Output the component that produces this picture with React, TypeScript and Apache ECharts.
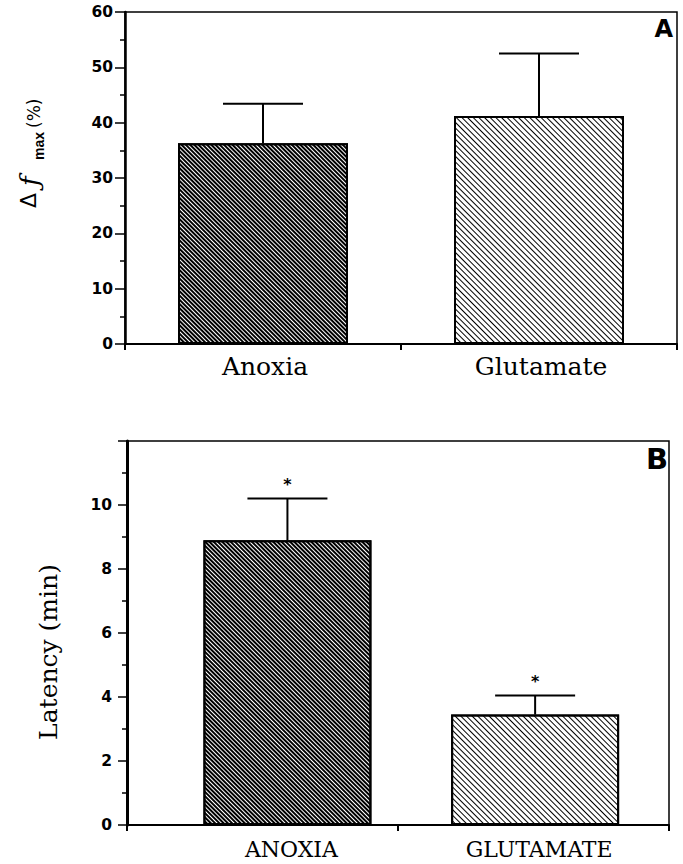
import React, { useEffect, useRef } from 'react';
import * as echarts from 'echarts';

// ---------- data ----------
const categoriesA = ['Anoxia', 'Glutamate'];
const valuesA = [36.3, 41.2];
const errorTopsA = [43.4, 52.5];
const yTicksA = [0, 10, 20, 30, 40, 50, 60];

const categoriesB = ['ANOXIA', 'GLUTAMATE'];
const valuesB = [8.9, 3.45];
const errorTopsB = [10.2, 4.05];
const marksB = ['*', '*'];
const yTicksB = [0, 2, 4, 6, 8, 10];
const yMaxB = 12;

// ---------- layout / style ----------
const SHIFT_A = [0, 0];
const SHIFT_B = [0.092, 0.006];
const GRID_A = { left: 125, top: 12, width: 552, height: 332 };
const GRID_B = { left: 127, top: 441, width: 542, height: 384 };

const DENSE = {
  symbol: 'rect', symbolSize: 1, color: '#000', backgroundColor: '#fff',
  dashArrayX: [1, 0], dashArrayY: [1.2, 0.9], rotation: Math.PI / 4,
};
const SPARSE = {
  symbol: 'rect', symbolSize: 1, color: '#000', backgroundColor: '#fff',
  dashArrayX: [1, 0], dashArrayY: [1, 3], rotation: Math.PI / 4,
};
const DECALS = [DENSE, SPARSE];

function xAxisCfg(gridIndex: number) {
  return {
    type: 'value', gridIndex, min: -0.5, max: 1.5, interval: 1,
    axisLine: { show: true, onZero: false, lineStyle: { color: '#000', width: 2 } },
    axisTick: { show: true, inside: false, length: 6, lineStyle: { color: '#000', width: 2 } },
    axisLabel: { show: false },
    splitLine: { show: false },
  };
}

function yAxisCfg(gridIndex: number, ticks: number[], max: number, lw: number, tickLen: number, margin: number) {
  const interval = ticks[1] - ticks[0];
  return {
    type: 'value', gridIndex, min: ticks[0], max, interval,
    axisLine: { show: true, onZero: false, lineStyle: { color: '#000', width: lw } },
    axisTick: { show: true, inside: false, length: tickLen, lineStyle: { color: '#000', width: 1.5 } },
    minorTick: { show: true, splitNumber: 2, length: 5, lineStyle: { color: '#000', width: 1.5 } },
    axisLabel: {
      color: '#000', fontFamily: 'DejaVu Sans', fontWeight: 'bold', fontSize: 15.5, margin,
      formatter: (v: number) => (ticks.indexOf(v) >= 0 ? String(v) : ''),
    },
    splitLine: { show: false },
    minorSplitLine: { show: false },
  };
}

function barSeries(idx: number, values: number[], shift: number[], width: number) {
  return {
    type: 'bar', xAxisIndex: idx, yAxisIndex: idx, barWidth: width,
    data: values.map((v, i) => ({ value: [i + shift[i], v], itemStyle: { decal: DECALS[i] } })),
    itemStyle: { color: '#fff', borderColor: '#000', borderWidth: 2 },
    silent: true,
  };
}

function errorSeries(idx: number, values: number[], tops: number[], shift: number[], marks: string[] | null) {
  return {
    type: 'custom', xAxisIndex: idx, yAxisIndex: idx, clip: false, silent: true, z: 5,
    encode: { x: 0, y: [1, 2] },
    data: values.map((v, i) => [i + shift[i], v, tops[i]]),
    renderItem: (params: any, api: any) => {
      const x = api.value(0), v = api.value(1), t = api.value(2);
      const p0 = api.coord([x, v]);
      const p1 = api.coord([x, t]);
      const children: any[] = [
        { type: 'line', shape: { x1: p0[0], y1: p0[1], x2: p1[0], y2: p1[1] }, style: { stroke: '#000', lineWidth: 2 } },
        { type: 'line', shape: { x1: p1[0] - 40, y1: p1[1], x2: p1[0] + 40, y2: p1[1] }, style: { stroke: '#000', lineWidth: 2 } },
      ];
      if (marks && marks[params.dataIndex]) {
        children.push({
          type: 'text', x: p1[0], y: p1[1] - 14,
          style: {
            text: marks[params.dataIndex], fill: '#000', font: 'bold 16px "DejaVu Sans"',
            textAlign: 'center', textVerticalAlign: 'middle', align: 'center', verticalAlign: 'middle',
          },
        });
      }
      return { type: 'group', children };
    },
  };
}

function labelSeries(idx: number, cats: string[], shift: number[], dy: number, dx: number, font: string) {
  return {
    type: 'custom', xAxisIndex: idx, yAxisIndex: idx, clip: false, silent: true,
    encode: { x: 0, y: 1 },
    data: cats.map((c, i) => [i + shift[i], 0]),
    renderItem: (params: any, api: any) => {
      const p = api.coord([api.value(0), api.value(1)]);
      return {
        type: 'text', x: p[0] + dx, y: p[1] + dy,
        style: {
          text: cats[params.dataIndex], fill: '#000', font,
          textAlign: 'center', textVerticalAlign: 'middle', align: 'center', verticalAlign: 'middle',
        },
      };
    },
  };
}

export default function App() {
  const ref = useRef<HTMLDivElement>(null);
  useEffect(() => {
    if (!ref.current) return;
    const chart = echarts.init(ref.current, undefined, { renderer: 'svg' });
    const txt = (extra: any) => ({ fill: '#000', textVerticalAlign: 'middle', verticalAlign: 'middle', ...extra });
    chart.setOption({
      animation: false,
      backgroundColor: '#fff',
      grid: [
        { ...GRID_A, show: true, borderColor: '#000', borderWidth: 1.5, backgroundColor: 'transparent' },
        { ...GRID_B, show: true, borderColor: '#000', borderWidth: 1.5, backgroundColor: 'transparent' },
      ],
      xAxis: [xAxisCfg(0), xAxisCfg(1)],
      yAxis: [
        yAxisCfg(0, yTicksA, yTicksA[yTicksA.length - 1], 2.5, 10, 12),
        yAxisCfg(1, yTicksB, yMaxB, 3, 9, 15),
      ],
      series: [
        barSeries(0, valuesA, SHIFT_A, 170),
        errorSeries(0, valuesA, errorTopsA, SHIFT_A, null),
        labelSeries(0, categoriesA, SHIFT_A, 22, 2, '25px "DejaVu Serif"'),
        barSeries(1, valuesB, SHIFT_B, 168),
        errorSeries(1, valuesB, errorTopsB, SHIFT_B, marksB),
        labelSeries(1, categoriesB, SHIFT_B, 24, 4, '22px "DejaVu Serif"'),
      ],
      graphic: [
        {
          type: 'group', x: 30, y: 155, rotation: Math.PI / 2,
          children: [
            { type: 'text', x: -53, y: -1.5, style: txt({ text: 'Δ', font: '22px "DejaVu Sans"' }) },
            { type: 'text', x: -31, y: 0, style: txt({ text: 'ƒ', font: 'italic 26px "DejaVu Serif"' }) },
            { type: 'text', x: -5, y: 9, style: txt({ text: 'max', font: 'bold 14px "Liberation Sans"' }) },
            { type: 'text', x: 27, y: 4, style: txt({ text: '(%)', font: '17px "DejaVu Sans"' }) },
          ],
        },
        {
          type: 'text', x: 48, y: 652, rotation: Math.PI / 2,
          style: txt({ text: 'Latency (min)', font: '25px "DejaVu Serif"', textAlign: 'center', align: 'center' }),
        },
        {
          type: 'text', x: 673, y: 29,
          style: txt({ text: 'A', font: 'bold 24px "DejaVu Sans"', textAlign: 'right', align: 'right' }),
        },
        {
          type: 'text', x: 668, y: 459,
          style: txt({ text: 'B', font: 'bold 29px "DejaVu Sans"', textAlign: 'right', align: 'right' }),
        },
      ],
    });
    return () => chart.dispose();
  }, []);
  return (
    <div
      ref={ref}
      style={{ position: 'fixed', left: 0, top: 0, width: 683, height: 864, background: '#fff' }}
    />
  );
}
